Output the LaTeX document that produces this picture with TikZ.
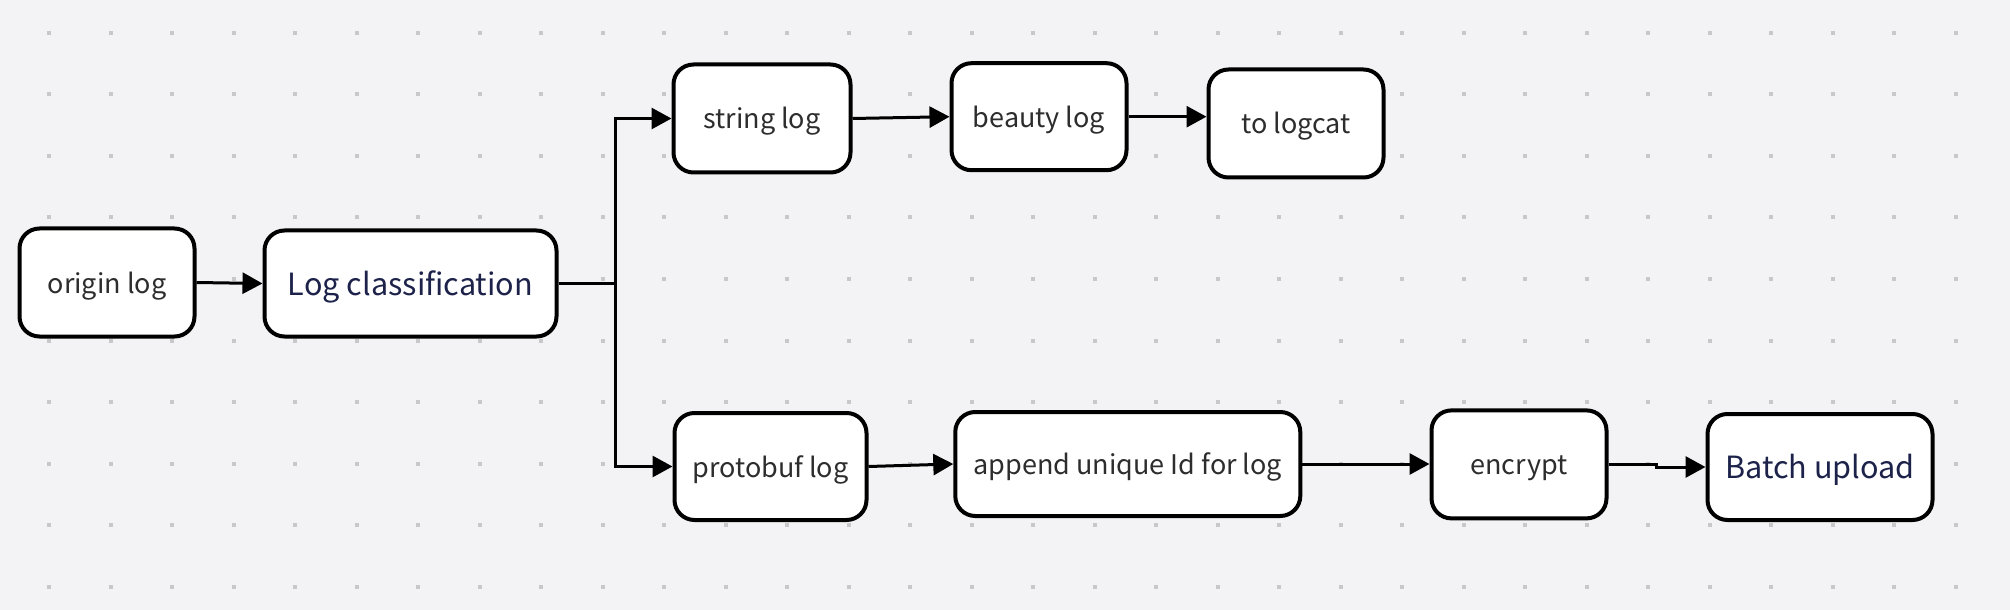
\documentclass[tikz,border=0pt]{standalone}
\usepackage{fontspec}
\newfontfamily\uifont{Noto Sans CJK SC}
\usetikzlibrary{arrows.meta}
\definecolor{bgc}{RGB}{243,243,245}
\definecolor{dotc}{RGB}{200,200,203}
\definecolor{txtc}{RGB}{45,45,45}
\definecolor{navy}{RGB}{28,34,73}
\tikzset{
  box/.style={draw=black, line width=2pt, fill=white, rounded corners=10pt,
    inner sep=0pt, align=center, text=txtc, text height=13pt, text depth=2.5pt,
    font=\uifont\fontsize{13.5pt}{16pt}\selectfont},
  bigbox/.style={box, text=navy, text height=14.5pt, text depth=2.7pt,
    font=\uifont\fontsize{15.3pt}{18pt}\selectfont},
  conn/.style={line width=1.5pt, draw=black, -{Triangle[length=10pt,width=10.5pt]}},
  plainconn/.style={line width=1.5pt, draw=black}
}
\begin{document}
\begin{tikzpicture}[x=0.5pt,y=-0.5pt]
\fill[bgc] (0,0) rectangle (2010,610);
\useasboundingbox (0,0) rectangle (2010,610);
\foreach \i in {0,...,31}{
  \foreach \j in {0,...,9}{
    \fill[dotc] ({49.2+61.5*\i-2},{33+61.5*\j-2}) rectangle ++(4,4);
  }
}
\node[box, minimum width=87.5pt, minimum height=54pt] (origin) at (107,282.5) {origin log};
\node[bigbox, minimum width=146pt, minimum height=53pt] (logc) at (410.5,283.5) {Log classification};
\node[box, minimum width=88.5pt, minimum height=54pt] (string) at (762,118.5) {string log};
\node[box, minimum width=87.5pt, minimum height=53.5pt] (beauty) at (1039,116.7) {beauty log};
\node[box, minimum width=87.5pt, minimum height=54pt] (logcat) at (1296,123.5) {to logcat};
\node[box, minimum width=96pt, minimum height=53.5pt] (protobuf) at (770.5,466.5) {protobuf log};
\node[box, minimum width=172.5pt, minimum height=52pt] (append) at (1127.8,464) {append unique Id for log};
\node[box, minimum width=87.5pt, minimum height=54pt] (encrypt) at (1519,464.4) {encrypt};
\node[bigbox, minimum width=112.5pt, minimum height=53pt] (batch) at (1820,467) {Batch upload};
\coordinate (fork) at (615,283.5);
\draw[conn] (origin.east) -- (logc.west);
\draw[plainconn] (logc.east) -- (fork);
\draw[conn] (fork) |- (string.west);
\draw[conn] (fork) |- (protobuf.west);
\draw[conn] (string.east) -- (beauty.west);
\draw[conn] (beauty.east) -- (beauty.east -| logcat.west);
\draw[conn] (protobuf.east) -- (append.west);
\draw[conn] (append.east) -- (append.east -| encrypt.west);
\draw[conn] (encrypt.east) -- ++(48,0) |- (batch.west);
\end{tikzpicture}
\end{document}
